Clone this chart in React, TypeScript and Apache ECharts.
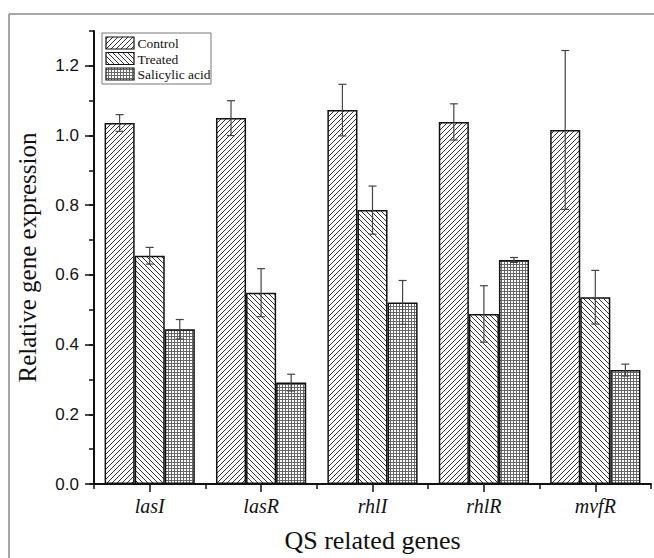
import React, { useEffect, useRef } from "react";
import * as echarts from "echarts";

const genes = ["lasI", "lasR", "rhlI", "rhlR", "mvfR"];
const seriesNames = ["Control", "Treated", "Salicylic acid"];
const controlMean = [1.036, 1.05, 1.073, 1.039, 1.016];
const controlErr = [0.024, 0.05, 0.074, 0.052, 0.228];
const treatedMean = [0.655, 0.549, 0.786, 0.488, 0.536];
const treatedErr = [0.024, 0.069, 0.069, 0.081, 0.077];
const saMean = [0.444, 0.291, 0.521, 0.643, 0.327];
const saErr = [0.028, 0.024, 0.063, 0.007, 0.017];
const yTicks = [0, 0.2, 0.4, 0.6, 0.8, 1.0, 1.2];
const patternKinds = ["fwd", "back", "grid"];

function makePattern(kind: string): any {
  const s = kind === "grid" ? 3 : 5;
  const c = document.createElement("canvas");
  c.width = s;
  c.height = s;
  const ctx = c.getContext("2d")!;
  ctx.fillStyle = "#fff";
  ctx.fillRect(0, 0, s, s);
  ctx.strokeStyle = kind === "grid" ? "#666" : "#333";
  ctx.lineWidth = 1;
  ctx.beginPath();
  if (kind === "fwd") {
    for (const o of [-s, 0, s]) {
      ctx.moveTo(o, s);
      ctx.lineTo(o + s, 0);
    }
  } else if (kind === "back") {
    for (const o of [-s, 0, s]) {
      ctx.moveTo(o, 0);
      ctx.lineTo(o + s, s);
    }
  } else {
    ctx.moveTo(0.5, 0);
    ctx.lineTo(0.5, s);
    ctx.moveTo(0, 0.5);
    ctx.lineTo(s, 0.5);
  }
  ctx.stroke();
  return { image: c.toDataURL(), repeat: "repeat", imageWidth: s, imageHeight: s };
}

export default function App() {
  const ref = useRef<HTMLDivElement>(null);
  useEffect(() => {
    if (!ref.current) return;
    const chart = echarts.init(ref.current, null, { renderer: "svg" });
    const means = [controlMean, treatedMean, saMean];
    const errs = [controlErr, treatedErr, saErr];
    const axisColor = "#111";
    const tickStyle = { color: axisColor, width: 1.5 };
    const BAR_GAP_CAT = 0.19;

    const barSeries = means.map((m, idx) => ({
      type: "bar",
      name: seriesNames[idx],
      data: m,
      barGap: "0%",
      barCategoryGap: "19%",
      xAxisIndex: 0,
      yAxisIndex: 0,
      itemStyle: { color: makePattern(patternKinds[idx]), borderColor: "#111", borderWidth: 1.5 },
    }));

    const errSeries = means.map((m, idx) => ({
      type: "custom",
      name: seriesNames[idx] + " error",
      xAxisIndex: 0,
      yAxisIndex: 0,
      z: 10,
      data: m.map((v, i) => [i, v, errs[idx][i]]),
      encode: { x: 0, y: 1 },
      renderItem: (params: any, api: any) => {
        const ci = api.value(0);
        const mv = api.value(1);
        const e = api.value(2);
        const band = api.size([1, 0])[0];
        const bw = (band * (1 - BAR_GAP_CAT)) / 3;
        const c = api.coord([ci, mv]);
        const x = c[0] + (idx - 1) * bw;
        const yTop = api.coord([ci, mv + e])[1];
        const yBot = api.coord([ci, mv - e])[1];
        const hw = 4;
        const style = { stroke: "#444", lineWidth: 1.2 };
        return {
          type: "group",
          children: [
            { type: "line", shape: { x1: x, y1: yTop, x2: x, y2: yBot }, style },
            { type: "line", shape: { x1: x - hw, y1: yTop, x2: x + hw, y2: yTop }, style },
            { type: "line", shape: { x1: x - hw, y1: yBot, x2: x + hw, y2: yBot }, style },
          ],
        };
      },
    }));

    const legendChildren: any[] = [
      {
        type: "rect",
        shape: { x: 102, y: 33, width: 109, height: 51 },
        style: { fill: "#fff", stroke: "#777", lineWidth: 1 },
      },
    ];
    seriesNames.forEach((n, i) => {
      const yy = 37 + i * 15.5;
      legendChildren.push({
        type: "rect",
        shape: { x: 106, y: yy, width: 28, height: 12 },
        style: { fill: makePattern(patternKinds[i]), stroke: "#111", lineWidth: 1.2 },
      });
      legendChildren.push({
        type: "text",
        x: 137.5,
        y: yy + 6.5,
        style: {
          text: n,
          font: "13.5px 'Liberation Serif', 'Times New Roman', serif",
          fill: "#111",
          verticalAlign: "middle",
          align: "left",
        },
      });
    });

    chart.setOption({
      animation: false,
      backgroundColor: "#fff",
      grid: { left: 94, right: 3, top: 31, bottom: 74, containLabel: false },
      xAxis: [
        {
          type: "category",
          data: genes,
          position: "bottom",
          axisLine: { show: true, lineStyle: { color: axisColor, width: 2 } },
          axisTick: { show: true, length: 5, lineStyle: tickStyle },
          axisLabel: {
            fontFamily: "Liberation Serif",
            fontStyle: "italic",
            fontSize: 20,
            color: "#111",
            margin: 12,
          },
          name: "QS related genes",
          nameLocation: "middle",
          nameGap: 43,
          nameTextStyle: { fontFamily: "Liberation Serif", fontSize: 26, color: "#111" },
          splitLine: { show: false },
        },
        {
          type: "category",
          data: genes,
          position: "bottom",
          axisLine: { show: false },
          axisTick: { show: true, alignWithLabel: true, length: 8, lineStyle: tickStyle },
          axisLabel: { show: false },
          splitLine: { show: false },
        },
      ],
      yAxis: [
        {
          type: "value",
          min: 0,
          max: 1.3,
          interval: 0.1,
          position: "left",
          axisLine: { show: true, lineStyle: { color: axisColor, width: 2 } },
          axisTick: { show: true, length: 5, lineStyle: tickStyle },
          axisLabel: { show: false },
          splitLine: { show: false },
          name: "Relative gene expression",
          nameLocation: "middle",
          nameGap: 54,
          nameTextStyle: { fontFamily: "Liberation Serif", fontSize: 25, color: "#111" },
        },
        {
          type: "value",
          min: 0,
          max: 1.3,
          interval: 0.2,
          position: "left",
          axisLine: { show: false },
          axisTick: { show: true, length: 9, customValues: yTicks, lineStyle: tickStyle },
          axisLabel: {
            customValues: yTicks,
            formatter: (v: number) =>
              Math.abs(v * 5 - Math.round(v * 5)) < 1e-6 ? v.toFixed(1) : "",
            margin: 15,
            fontFamily: "Liberation Sans",
            fontSize: 17,
            color: "#111",
          },
          splitLine: { show: false },
        },
      ],
      graphic: [
        {
          type: "line",
          shape: { x1: 9, y1: 14, x2: 654, y2: 14 },
          style: { stroke: "#888", lineWidth: 1.5 },
        },
        {
          type: "line",
          shape: { x1: 9, y1: 14, x2: 9, y2: 558 },
          style: { stroke: "#888", lineWidth: 1.5 },
        },
        { type: "group", children: legendChildren, z: 100 },
      ],
      series: [...barSeries, ...errSeries],
    });
    return () => chart.dispose();
  }, []);
  return (
    <div
      ref={ref}
      style={{ position: "absolute", left: 0, top: 0, width: 654, height: 558 }}
    />
  );
}
